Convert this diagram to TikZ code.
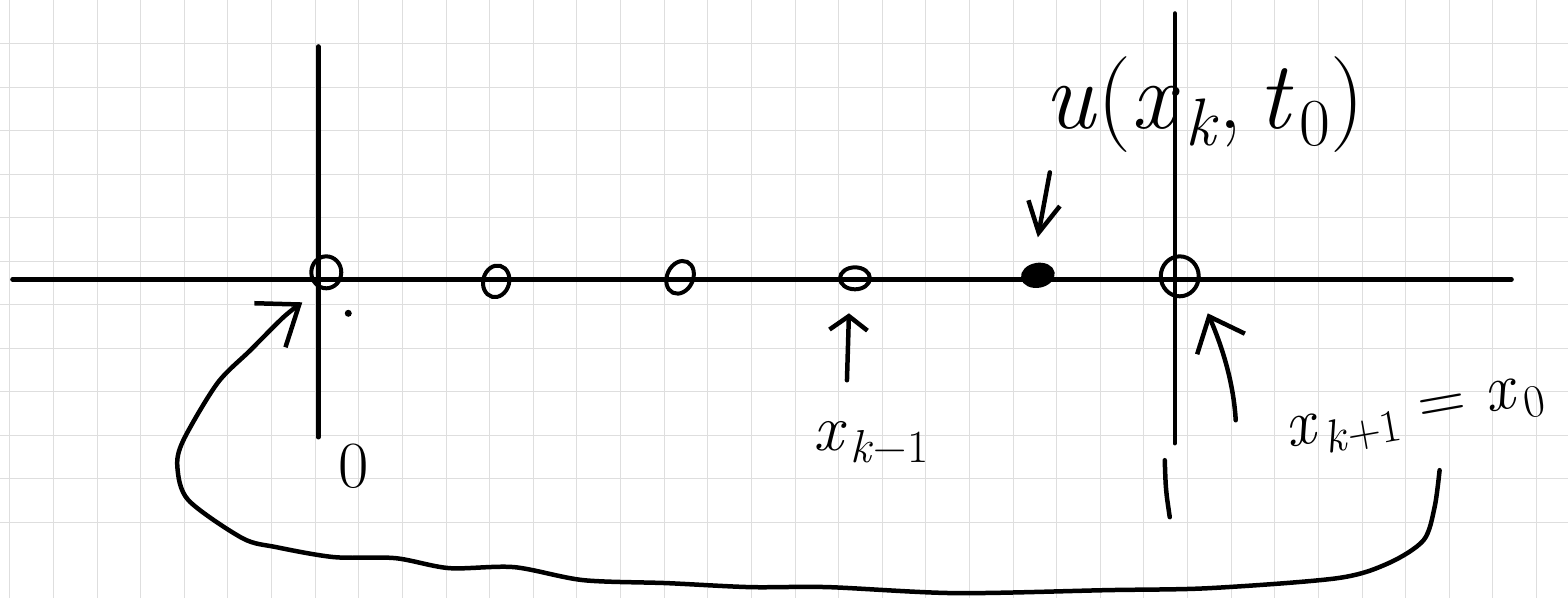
\documentclass[tikz,border=0pt]{standalone}
\usepackage{fontspec}
\usepackage{graphicx}
\setmainfont{Latin Modern Roman}
\usetikzlibrary{arrows.meta,shapes.geometric}
\newcommand{\lsub}[1]{\kern0.06em\raisebox{-0.18em}{\scalebox{0.7}{#1}}}
\begin{document}
\begin{tikzpicture}[x=1pt,y=-1pt,
  gridline/.style={draw=black!13,line width=1pt},
  ink/.style={draw=black,line width=4.5pt,line cap=round,line join=round},
  ptmark/.style={ellipse,draw=black,line width=4pt,inner sep=0pt},
  lbl/.style={inner sep=0pt,text=black},
  bigfont/.style={font=\fontsize{96}{100}\selectfont},
  midfont/.style={font=\fontsize{66}{72}\selectfont}
]
\fill[white] (0,0) rectangle (1568,598);
\foreach \i in {0,...,35} \draw[gridline] ({9.3+43.65*\i},0) -- ({9.3+43.65*\i},598);
\foreach \j in {1,...,12} \draw[gridline] (0,{-0.25+43.55*\j}) -- (1568,{-0.25+43.55*\j});
\useasboundingbox (0,0) rectangle (1568,598);

% axes
\coordinate (axL) at (12,279);
\coordinate (axR) at (1512,279);
\coordinate (vlT) at (318,46);
\coordinate (vlB) at (318,437);
\coordinate (vrT) at (1175,13);
\coordinate (vrB) at (1175,443);
\coordinate (vsT) at (1165,460);
\coordinate (vsB) at (1170,517);
\draw[ink] (axL) -- (axR);
\draw[ink] (vlT) -- (vlB);
\draw[ink] (vrT) -- (vrB);
\draw[ink] (vsT) .. controls (1166,490) .. (vsB);

% grid points
\node[ptmark,minimum width=30pt,minimum height=32pt] (p0) at (326,272) {};
\node[ptmark,minimum width=26pt,minimum height=32pt,rotate=-15] (p1) at (496,281) {};
\node[ptmark,minimum width=26pt,minimum height=34pt,rotate=-25] (p2) at (680,277) {};
\node[ptmark,minimum width=30pt,minimum height=22pt] (p3) at (855,278) {};
\node[ptmark,fill=black,minimum width=30pt,minimum height=21pt,rotate=10] (p4) at (1038,275) {};
\node[ptmark,minimum width=38pt,minimum height=40pt] (p5) at (1180,276) {};
\node[circle,fill=black,inner sep=0pt,minimum size=7pt] (dot) at (348,313) {};

% labels
\node[lbl,bigfont] (lu) at (1205,104) {\textit{u}(\textit{x}\lsub{\textit{k}},\,\textit{t}\lsub{0})};
\node[lbl,midfont] (lkm1) at (871,442) {\textit{x}\lsub{\textit{k}−1}};
\node[lbl,midfont,rotate=10] (lkp1) at (1416,418) {\textit{x}\lsub{\textit{k}+1}\kern0.3em=\kern0.3em\textit{x}\lsub{0}};
\node[lbl,midfont] (lzero) at (353,466) {0};

% arrows
\coordinate (uTail) at (1050,172);
\coordinate (uTip) at (1038,237);
\draw[ink,-{Straight Barb[length=30pt,width=32pt]}] (uTail) -- (uTip);
\coordinate (kmTail) at (847,380);
\coordinate (kmTip) at (849,313);
\draw[ink,-{Straight Barb[length=14pt,width=38pt]}] (kmTail) -- (kmTip);
\coordinate (kpTail) at (1236,420);
\coordinate (kpTip) at (1208,313);
\draw[ink,-{Straight Barb[length=30pt,width=52pt]}] (kpTail) .. controls (1234,385) and (1224,350) .. (kpTip);
\coordinate (wStart) at (1440,470);
\coordinate (wTip) at (302,302);
\draw[ink,-{Straight Barb[length=36pt,width=54pt]}] plot[smooth,tension=0.5] coordinates {(wStart) (1435,507) (1424,540) (1389,563) (1338,578) (1210,588) (1108,590) (955,593) (828,587) (750,587) (667,583) (583,580) (514,567) (449,568) (395,558) (334,557) (276,547) (242,538) (188,500) (177,467) (183,440) (217,383) (250,350) (283,317) (wTip)};
\end{tikzpicture}
\end{document}
